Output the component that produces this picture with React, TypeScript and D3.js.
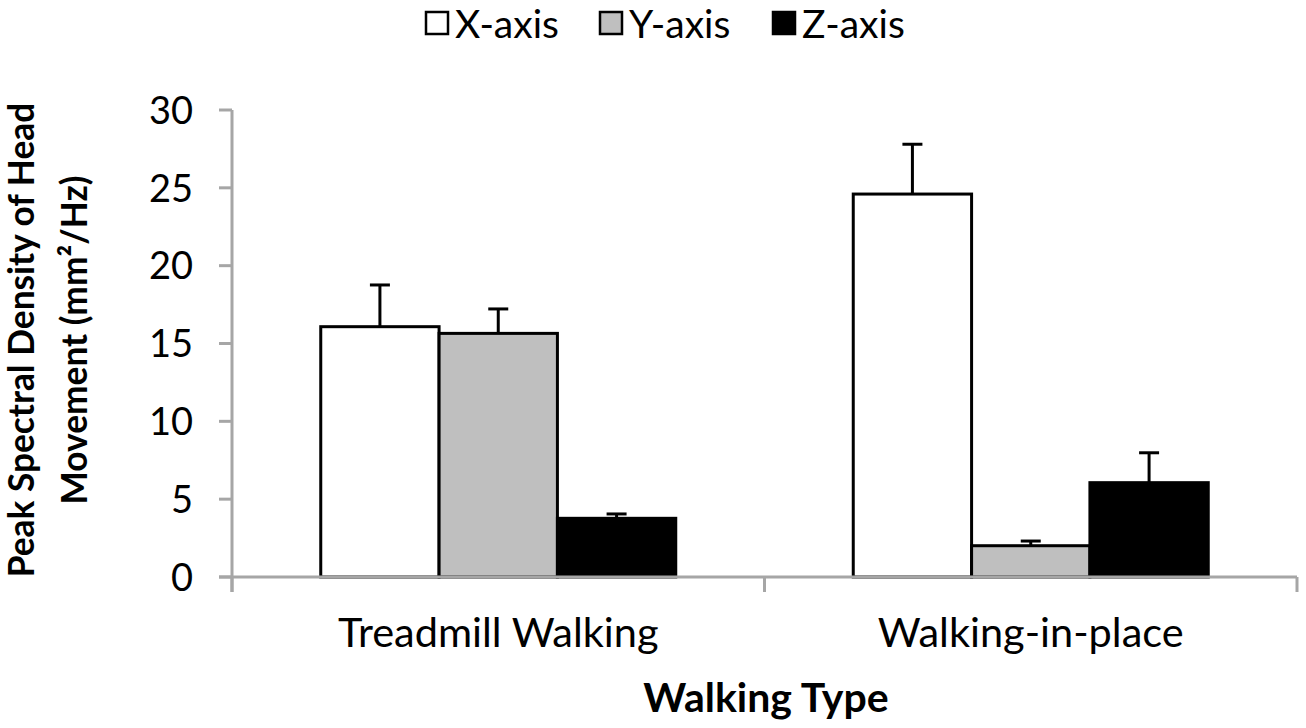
import React from 'react';
import * as d3 from 'd3';

const categories = ['Treadmill Walking', 'Walking-in-place'];
const seriesNames = ['X-axis', 'Y-axis', 'Z-axis'];
const seriesColors = ['#ffffff', '#bfbfbf', '#000000'];
const meanX = [16.08, 24.6];
const meanY = [15.65, 2.01];
const meanZ = [3.77, 6.06];
const errX = [2.68, 3.2];
const errY = [1.57, 0.3];
const errZ = [0.28, 1.92];
const yTicks = [0, 5, 10, 15, 20, 25, 30];
const yTitleLines = ['Peak Spectral Density of Head', 'Movement (mm²/Hz)'];
const xTitle = 'Walking Type';

const W = 1306;
const H = 728;
const plotLeft = 232;
const plotRight = 1297;
const plotTop = 110;
const plotBottom = 577;
const FONT = "Lato, 'Open Sans', sans-serif";
const AXIS_COLOR = '#a6a6a6';

export default function App() {
  const means = [meanX, meanY, meanZ];
  const errs = [errX, errY, errZ];

  const x0 = d3.scaleBand<string>().domain(categories).range([plotLeft, plotRight]).paddingInner(0).paddingOuter(0);
  const x1 = d3.scaleBand<string>().domain(seriesNames).range([0, x0.bandwidth()]).paddingInner(0).paddingOuter(0.75);
  const y = d3.scaleLinear().domain([0, 30]).range([plotBottom, plotTop]);

  const bars: { cat: string; s: number; v: number; e: number }[] = [];
  categories.forEach((cat, ci) => {
    seriesNames.forEach((_, si) => {
      bars.push({ cat, s: si, v: means[si][ci], e: errs[si][ci] });
    });
  });

  const bw = x1.bandwidth();
  const catBoundaries = [plotLeft, ...categories.map((c) => (x0(c) as number) + x0.bandwidth())];

  const legendX = [424, 598, 771];

  return (
    <svg width={W} height={H} style={{ position: 'fixed', left: 0, top: 0, background: '#fff' }} fontFamily={FONT}>
      <rect x={0} y={0} width={W} height={H} fill="#fff" />
      {/* legend */}
      {seriesNames.map((name, i) => (
        <g key={name} transform={`translate(${legendX[i]},0)`}>
          <rect x={2} y={12} width={22} height={22} fill={seriesColors[i]} stroke="#000" strokeWidth={2.5} />
          <text x={31} y={38} fontSize={39} fill="#000">{name}</text>
        </g>
      ))}

      {/* y axis */}
      <line x1={plotLeft} x2={plotLeft} y1={plotTop} y2={plotBottom + 15} stroke={AXIS_COLOR} strokeWidth={3} />
      {yTicks.map((t) => (
        <g key={t}>
          <line x1={plotLeft - 13} x2={plotLeft} y1={y(t)} y2={y(t)} stroke={AXIS_COLOR} strokeWidth={3} />
          <text x={193} y={y(t)} dy="0.36em" textAnchor="end" fontSize={38} fill="#000">{t}</text>
        </g>
      ))}

      {/* bars */}
      {bars.map((b, i) => {
        const bx = (x0(b.cat) as number) + (x1(seriesNames[b.s]) as number);
        return (
          <rect key={i} x={bx} y={y(b.v)} width={bw} height={plotBottom - y(b.v)}
            fill={seriesColors[b.s]} stroke="#000" strokeWidth={3} />
        );
      })}

      {/* error bars */}
      {bars.map((b, i) => {
        const cx = (x0(b.cat) as number) + (x1(seriesNames[b.s]) as number) + bw / 2;
        const yt = y(b.v + b.e);
        return (
          <g key={'e' + i} stroke="#000" strokeWidth={3}>
            <line x1={cx} x2={cx} y1={y(b.v)} y2={yt} />
            <line x1={cx - 10} x2={cx + 10} y1={yt} y2={yt} />
          </g>
        );
      })}

      {/* x axis */}
      <line x1={plotLeft - 13} x2={plotRight} y1={plotBottom} y2={plotBottom} stroke={AXIS_COLOR} strokeWidth={3} />
      {catBoundaries.map((bx, i) => (
        <line key={i} x1={bx} x2={bx} y1={plotBottom} y2={plotBottom + 15} stroke={AXIS_COLOR} strokeWidth={3} />
      ))}
      {categories.map((c) => (
        <text key={c} x={(x0(c) as number) + x0.bandwidth() / 2} y={647} textAnchor="middle" fontSize={41.5} fill="#000">{c}</text>
      ))}

      {/* axis titles */}
      <text x={766} y={712} textAnchor="middle" fontSize={41} fontWeight={700} fill="#000">{xTitle}</text>
      <g transform="translate(0,340) rotate(-90)">
        <text x={0} y={34} textAnchor="middle" fontSize={35.3} fontWeight={700} fill="#000">{yTitleLines[0]}</text>
        <text x={0} y={87} textAnchor="middle" fontSize={35.3} fontWeight={700} fill="#000">{yTitleLines[1]}</text>
      </g>
    </svg>
  );
}
